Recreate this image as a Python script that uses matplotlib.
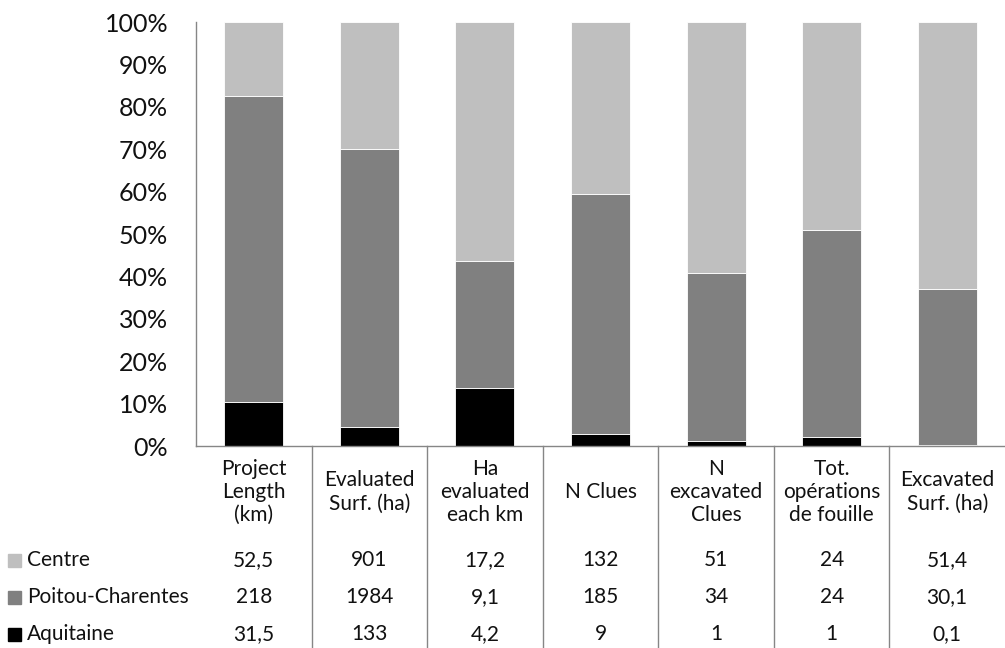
import matplotlib
matplotlib.use("Agg")
import matplotlib.pyplot as plt
from matplotlib.patches import Rectangle
from matplotlib.transforms import blended_transform_factory
import numpy as np

plt.rcParams['font.family'] = ['Lato', 'DejaVu Sans']

categories = ["Project\nLength\n(km)", "Evaluated\nSurf. (ha)", "Ha\nevaluated\neach km",
              "N Clues", "N\nexcavated\nClues", "Tot.\nopérations\nde fouille",
              "Excavated\nSurf. (ha)"]
series_names = ["Centre", "Poitou-Charentes", "Aquitaine"]
centre = [52.5, 901, 17.2, 132, 51, 24, 51.4]
poitou = [218, 1984, 9.1, 185, 34, 24, 30.1]
aquitaine = [31.5, 133, 4.2, 9, 1, 1, 0.1]
ytick_labels = ["0%", "10%", "20%", "30%", "40%", "50%", "60%", "70%", "80%", "90%", "100%"]

colors = {"Centre": "#BFBFBF", "Poitou-Charentes": "#808080", "Aquitaine": "#000000"}

W, H = 1005, 648
fig = plt.figure(figsize=(W / 100, H / 100), dpi=100)

# plot area in pixel coordinates (from top-left)
left_px, right_px, top_px, bottom_px = 196, 1005, 22, 446
ax = fig.add_axes([left_px / W, 1 - bottom_px / H,
                   (right_px - left_px) / W, (bottom_px - top_px) / H])

c = np.array(centre, float)
p = np.array(poitou, float)
a = np.array(aquitaine, float)
tot = c + p + a
pa, pp, pc = a / tot * 100, p / tot * 100, c / tot * 100

x = np.arange(len(categories))
bw = 0.51
ax.bar(x, pa, bw, color=colors["Aquitaine"], edgecolor="white", linewidth=0.6)
ax.bar(x, pp, bw, bottom=pa, color=colors["Poitou-Charentes"], edgecolor="white", linewidth=0.6)
ax.bar(x, pc, bw, bottom=pa + pp, color=colors["Centre"], edgecolor="white", linewidth=0.6)

ax.set_xlim(-0.5, len(categories) - 0.5)
ax.set_ylim(0, 100)
ax.set_yticks(np.arange(0, 101, 10))
ax.set_yticklabels(ytick_labels, fontsize=18, color="#111111")
ax.tick_params(axis="y", length=0, pad=20)
ax.set_xticks([])
for s in ["top", "right"]:
    ax.spines[s].set_visible(False)
for s in ["left", "bottom"]:
    ax.spines[s].set_color("#868686")
    ax.spines[s].set_linewidth(1.0)

# data table below the plot
def ay(ypx):
    return (bottom_px - ypx) / (bottom_px - top_px)

tr = blended_transform_factory(ax.transData, ax.transAxes)
for i in range(1, len(categories)):
    ax.plot([i - 0.5, i - 0.5], [0, ay(H + 2)], color="#868686", lw=1.0,
            transform=tr, clip_on=False)

fs_tab = 15
for i, cat in enumerate(categories):
    ax.text(i, ay(492), cat, transform=tr, ha="center", va="center",
            fontsize=fs_tab, linespacing=1.2, color="#111111")

def fmt(v):
    return f"{v:g}".replace(".", ",")

row_y = [560, 597, 634]
rows = [centre, poitou, aquitaine]
for yy, name, vals in zip(row_y, series_names, rows):
    for i, v in enumerate(vals):
        ax.text(i, ay(yy), fmt(v), transform=tr, ha="center", va="center",
                fontsize=fs_tab, color="#111111")
    fig.patches.append(Rectangle((8 / W, 1 - (yy + 6.5) / H), 13 / W, 13 / H,
                                 transform=fig.transFigure, color=colors[name]))
    fig.text(27 / W, 1 - yy / H, name, ha="left", va="center",
             fontsize=fs_tab, color="#111111")

fig.savefig("out.png", dpi=100)
